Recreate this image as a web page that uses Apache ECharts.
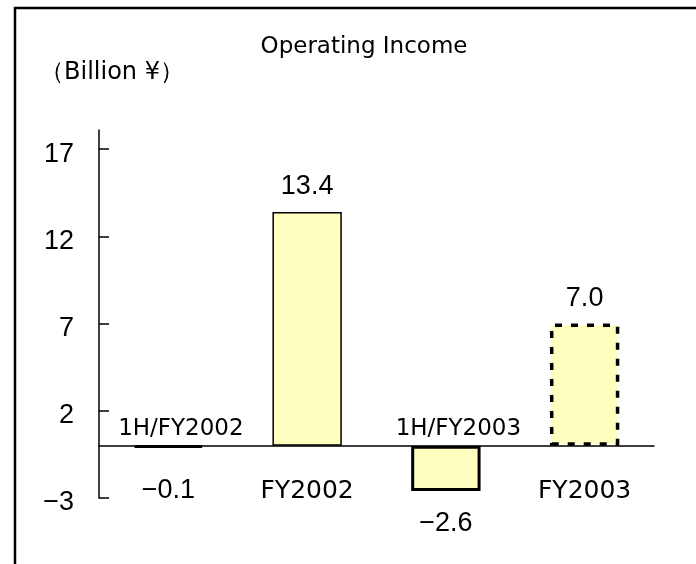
<!DOCTYPE html>
<html><head><meta charset="utf-8">
<script src="https://cdn.jsdelivr.net/npm/echarts@6/dist/echarts.min.js"></script>
<style>html,body{margin:0;padding:0;background:#fff}#c{width:696px;height:564px}</style>
</head><body><div id="c"></div>
<script>
const categories = ['1H/FY2002', 'FY2002', '1H/FY2003', 'FY2003'];
const values = [-0.1, 13.4, -2.6, 7.0];
const yTicks = [-3, 2, 7, 12, 17];
const titleText = 'Operating Income';
const unitText = '（Billion ¥）';

const NUMFONT = 'Liberation Sans, Arial, sans-serif';
const TXTFONT = 'DejaVu Sans, sans-serif';
const barStyles = [
  { itemStyle: { borderWidth: 3 }, label: { position: 'bottom', distance: 29 } },
  { itemStyle: { borderWidth: 1.5 }, label: { position: 'top', distance: 12 } },
  { itemStyle: { borderWidth: 3 }, label: { position: 'bottom', distance: 19 } },
  { itemStyle: { borderWidth: 3.5, borderType: [7, 9] }, label: { position: 'top', distance: 12 } }
];
const fmt = v => (v < 0 ? '\u2212' + Math.abs(v).toFixed(1) : v.toFixed(1));

const chart = echarts.init(document.getElementById('c'), null, { renderer: 'canvas' });
chart.setOption({
  animation: false,
  backgroundColor: '#fff',
  title: [
    { text: titleText, left: 364, top: 36, textAlign: 'center', padding: 0,
      textStyle: { fontFamily: TXTFONT, fontSize: 23, fontWeight: 'normal', color: '#000' } },
    { text: unitText, left: 40, top: 61, padding: 0,
      textStyle: { fontFamily: TXTFONT, fontSize: 24, fontWeight: 'normal', color: '#000' } }
  ],
  graphic: [
    { type: 'rect', z: -10, silent: true,
      shape: { x: 15, y: 8, width: 720, height: 600 },
      style: { fill: 'none', stroke: '#000', lineWidth: 2.5 } }
  ],
  grid: { left: 99, right: 42, top: 130, bottom: 66, containLabel: false, outerBoundsMode: 'none' },
  xAxis: [
    { type: 'category', data: categories, position: 'bottom',
      axisLine: { onZero: true, lineStyle: { color: '#000', width: 1.5 } },
      axisTick: { inside: true, length: 10, lineStyle: { color: '#000', width: 1.5 } },
      axisLabel: { interval: 0, margin: -19, fontFamily: TXTFONT, fontSize: 25, color: '#000',
        formatter: (v, i) => (i % 2 === 1 ? v : '') },
      splitLine: { show: false } },
    { type: 'category', data: categories, position: 'bottom',
      axisLine: { show: true, onZero: true, onZeroAxisIndex: 0, lineStyle: { color: 'rgba(0,0,0,0)' } },
      axisTick: { show: false },
      axisLabel: { interval: 0, inside: true, margin: 57, fontFamily: TXTFONT, fontSize: 23, color: '#000',
        padding: [0, 0, 0, 25],
        formatter: (v, i) => (i % 2 === 0 ? v : '') },
      splitLine: { show: false } }
  ],
  yAxis: {
    type: 'value', min: -3, max: 18.1,
    axisLine: { show: true, lineStyle: { color: '#000', width: 1.5 } },
    axisTick: { show: true, inside: true, length: 10, customValues: yTicks, lineStyle: { color: '#000', width: 1.5 } },
    axisLabel: { customValues: yTicks, margin: 25, color: '#000',
      formatter: v => '{a|' + (v < 0 ? '\u2212' + Math.abs(v) : String(v)) + '}',
      rich: { a: { fontFamily: NUMFONT, fontSize: 27, color: '#000', padding: [10, 0, 0, 0] } } },
    splitLine: { show: false }
  },
  series: [{
    type: 'bar', xAxisIndex: 0, barWidth: '50%',
    itemStyle: { color: '#FFFFC0', borderColor: '#000' },
    label: { show: true, fontFamily: NUMFONT, fontSize: 27, color: '#000', formatter: p => fmt(p.value) },
    data: values.map((v, i) => Object.assign({ value: v }, barStyles[i]))
  }]
});
</script></body></html>
